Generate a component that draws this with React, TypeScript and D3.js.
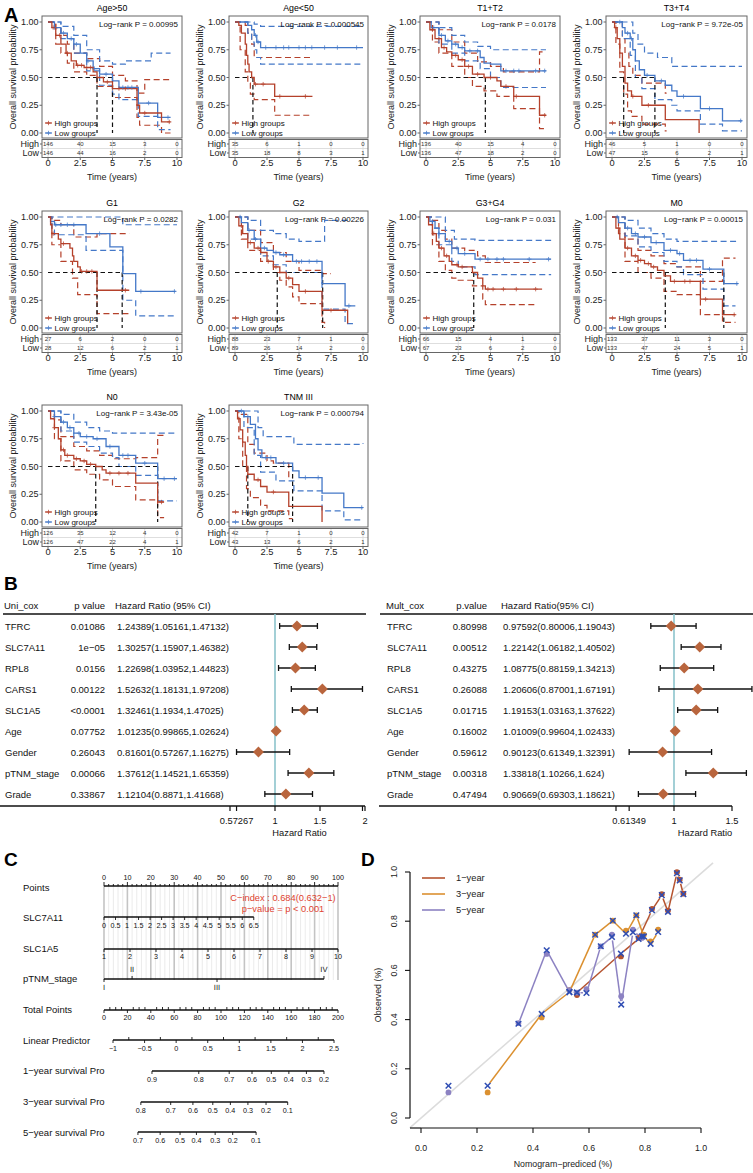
import React from 'react';
import * as d3 from 'd3';

type Pt = [number, number];

// ================= Panel A: Kaplan-Meier data =================
const kmTitles = ['Age>50', 'Age<50', 'T1+T2', 'T3+T4', 'G1', 'G2', 'G3+G4', 'M0', 'N0', 'TNM III'];
const kmPvals = ['0.00995', '0.000545', '0.0178', '9.72e-05', '0.0282', '0.00226', '0.031', '0.00015', '3.43e-05', '0.000794'];
const riskTimes = [0, 2.5, 5, 7.5, 10];
const riskHigh = [
  [146, 40, 15, 3, 0], [35, 6, 1, 0, 0], [136, 40, 15, 4, 0], [46, 5, 1, 0, 0], [27, 6, 2, 0, 0],
  [88, 23, 7, 1, 0], [66, 15, 4, 1, 0], [133, 37, 11, 3, 0], [126, 35, 12, 4, 0], [42, 7, 1, 0, 0],
];
const riskLow = [
  [146, 44, 16, 2, 0], [35, 18, 8, 3, 1], [136, 47, 18, 2, 0], [47, 15, 6, 2, 1], [28, 12, 6, 2, 1],
  [89, 26, 14, 2, 0], [67, 23, 6, 2, 0], [133, 47, 24, 5, 1], [126, 47, 22, 4, 1], [43, 13, 6, 2, 1],
];
const medHigh = [3.8, 1.4, 4.6, 0.9, 3.8, 3.3, 3.7, 4.1, 3.7, 1.0];
const medLow: (number | null)[] = [5.0, null, null, 3.3, 5.75, 6.85, null, 8.6, 8.5, 4.5];

const highSurv: Pt[][] = [
  [[0, 1], [0.3, 0.95], [0.6, 0.88], [1, 0.8], [1.4, 0.72], [1.8, 0.65], [2.2, 0.61], [2.8, 0.59], [3.5, 0.55], [3.8, 0.5], [4.3, 0.46], [5, 0.4], [6.9, 0.25], [7.1, 0.18], [8.8, 0.1], [9.5, 0.1]],
  [[0, 1], [0.3, 0.97], [0.5, 0.9], [0.8, 0.8], [0.9, 0.7], [1.0, 0.62], [1.1, 0.55], [1.3, 0.5], [1.5, 0.44], [3.1, 0.33], [6.05, 0.33]],
  [[0, 1], [0.3, 0.93], [0.7, 0.85], [1.2, 0.77], [1.6, 0.73], [2, 0.7], [2.5, 0.66], [3, 0.6], [3.6, 0.53], [4.5, 0.5], [5.5, 0.47], [5.8, 0.42], [6.8, 0.33], [8.8, 0.16], [9.3, 0.16]],
  [[0, 1], [0.2, 0.95], [0.4, 0.85], [0.6, 0.72], [0.8, 0.6], [1.0, 0.45], [1.2, 0.38], [1.5, 0.33], [2.3, 0.25], [4.1, 0.12], [6.7, 0]],
  [[0, 1], [0.2, 0.93], [0.3, 0.85], [0.8, 0.8], [1.0, 0.76], [1.7, 0.72], [1.9, 0.65], [2.0, 0.6], [2.3, 0.55], [2.5, 0.51], [3.8, 0.34], [6.3, 0.34]],
  [[0, 1], [0.3, 0.92], [0.6, 0.85], [1, 0.77], [1.5, 0.72], [2, 0.68], [2.5, 0.6], [3, 0.55], [3.5, 0.5], [4, 0.45], [4.5, 0.39], [5, 0.33], [6.8, 0.16], [8.8, 0.04]],
  [[0, 1], [0.2, 0.93], [0.5, 0.85], [0.8, 0.78], [1, 0.72], [1.4, 0.65], [1.8, 0.6], [2, 0.57], [2.5, 0.55], [3.6, 0.5], [4, 0.45], [4.4, 0.38], [4.6, 0.35], [9, 0.35]],
  [[0, 1], [0.3, 0.9], [0.6, 0.8], [1, 0.72], [1.5, 0.65], [2, 0.61], [2.5, 0.58], [3, 0.55], [3.5, 0.52], [4, 0.47], [4.5, 0.42], [6.8, 0.26], [8.5, 0.12], [9.5, 0.12]],
  [[0, 1], [0.2, 0.93], [0.5, 0.85], [0.8, 0.75], [1, 0.65], [1.3, 0.6], [2, 0.57], [2.5, 0.55], [3, 0.52], [3.7, 0.5], [4.2, 0.47], [4.5, 0.44], [6.8, 0.35], [8.5, 0.18], [9, 0.18]],
  [[0, 1], [0.2, 0.93], [0.4, 0.83], [0.6, 0.72], [0.8, 0.6], [0.9, 0.5], [1, 0.43], [1.5, 0.38], [2, 0.32], [2.5, 0.27], [4.2, 0.14], [6.8, 0]],
];
const lowSurv: Pt[][] = [
  [[0, 1], [0.5, 0.95], [1, 0.9], [1.5, 0.85], [2, 0.8], [2.5, 0.72], [3, 0.65], [3.5, 0.58], [4, 0.53], [5, 0.47], [5.5, 0.41], [7, 0.27], [8.5, 0.14], [9.5, 0.14]],
  [[0, 1], [1.0, 0.97], [1.3, 0.93], [1.5, 0.88], [1.7, 0.82], [2, 0.77], [10, 0.77]],
  [[0, 1], [0.4, 0.95], [1, 0.88], [1.5, 0.83], [2, 0.8], [2.5, 0.77], [3, 0.74], [4.2, 0.68], [4.5, 0.63], [5, 0.62], [5.8, 0.56], [9.3, 0.56]],
  [[0, 1], [0.8, 0.95], [1.0, 0.9], [1.4, 0.85], [1.6, 0.75], [1.8, 0.65], [2.1, 0.57], [2.5, 0.52], [3.3, 0.47], [4.1, 0.43], [4.6, 0.38], [5, 0.33], [6.8, 0.22], [8.5, 0.11], [10, 0.11]],
  [[0, 1], [0.2, 0.96], [0.5, 0.93], [2.95, 0.85], [4.8, 0.73], [5.8, 0.49], [6.8, 0.33], [9.9, 0.33]],
  [[0, 1], [0.5, 0.95], [1, 0.88], [1.5, 0.8], [2, 0.72], [2.5, 0.7], [3, 0.68], [3.5, 0.66], [4.5, 0.6], [6.8, 0.4], [8.6, 0.2], [9.4, 0.2]],
  [[0, 1], [0.3, 0.96], [0.7, 0.9], [1, 0.85], [1.5, 0.78], [2, 0.72], [2.5, 0.67], [3.8, 0.62], [9.7, 0.62]],
  [[0, 1], [0.5, 0.95], [1, 0.9], [1.5, 0.85], [2, 0.82], [3, 0.77], [4, 0.7], [5, 0.67], [5.5, 0.61], [7, 0.53], [8.6, 0.4], [9.7, 0.4]],
  [[0, 1], [0.5, 0.95], [1, 0.9], [1.5, 0.85], [2, 0.8], [2.5, 0.77], [3.5, 0.75], [4.5, 0.68], [5.5, 0.6], [6.8, 0.53], [8.5, 0.39], [10, 0.39]],
  [[0, 1], [0.7, 0.95], [1.2, 0.88], [1.6, 0.75], [1.8, 0.65], [2.1, 0.58], [3.2, 0.53], [4.5, 0.46], [5, 0.4], [6.8, 0.26], [8.5, 0.13], [10, 0.13]],
];
const highUpper: Pt[][] = [
  [[0, 1], [0.6, 0.95], [1, 0.88], [1.5, 0.8], [2, 0.72], [3, 0.67], [4, 0.6], [5, 0.52], [6, 0.47], [6.9, 0.36], [7.5, 0.48], [9.5, 0.48]],
  [[0, 1], [0.8, 0.97], [1, 0.9], [1.3, 0.8], [1.5, 0.68], [6.05, 0.68]],
  [[0, 1], [1, 0.93], [2, 0.82], [3, 0.72], [4, 0.64], [5, 0.6], [6, 0.55], [8.8, 0.73], [9.3, 0.73]],
  [[0, 1], [0.5, 1], [0.8, 0.85], [1, 0.72], [1.3, 0.6], [1.6, 0.52], [2.3, 0.45], [4.1, 0.36], [4.2, 0.36]],
  [[0, 1], [0.3, 0.97], [1, 0.93], [2, 0.82], [3.8, 0.85], [6.3, 0.85]],
  [[0, 1], [1, 0.88], [2, 0.77], [3, 0.68], [4, 0.6], [5, 0.52], [6.8, 0.49], [7.5, 0.49]],
  [[0, 1], [0.5, 0.97], [1, 0.88], [1.5, 0.8], [2, 0.72], [3, 0.7], [4, 0.65], [4.6, 0.59], [8.5, 0.59]],
  [[0, 1], [1, 0.8], [2, 0.7], [3, 0.65], [4, 0.58], [5, 0.55], [6.8, 0.42], [8.5, 0.63], [9.5, 0.63]],
  [[0, 1], [0.5, 0.92], [1, 0.77], [2, 0.68], [3, 0.64], [4, 0.6], [5, 0.57], [6.8, 0.58], [8.5, 0.78], [9, 0.78]],
  [[0, 1], [0.5, 0.97], [1, 0.7], [1.5, 0.62], [2.5, 0.55], [3, 0.53], [4.2, 0.4], [4.5, 0.4]],
];
const highLower: Pt[][] = [
  [[0, 1], [0.6, 0.8], [1, 0.72], [1.5, 0.63], [2, 0.55], [3, 0.52], [3.8, 0.42], [5, 0.32], [6.9, 0.14], [7.1, 0.07], [8.8, 0.0], [9.5, 0]],
  [[0, 1], [0.4, 0.75], [0.8, 0.55], [1.0, 0.45], [1.2, 0.35], [1.5, 0.3], [3.1, 0.16], [6.05, 0.16]],
  [[0, 1], [0.5, 0.82], [1, 0.72], [2, 0.6], [3, 0.5], [3.6, 0.42], [4.5, 0.38], [5.5, 0.33], [6.8, 0.22], [8.8, 0.04], [9.3, 0.04]],
  [[0, 1], [0.3, 0.8], [0.6, 0.55], [0.9, 0.35], [1.2, 0.2], [1.5, 0.15], [2.3, 0.08], [4.1, 0.02], [4.2, 0.02]],
  [[0, 1], [0.3, 0.75], [1, 0.6], [1.9, 0.45], [2.3, 0.3], [3.8, 0.13], [6.3, 0.13]],
  [[0, 1], [0.5, 0.8], [1, 0.7], [2, 0.6], [3, 0.5], [3.5, 0.43], [4, 0.37], [4.5, 0.28], [5, 0.22], [6.8, 0.05], [7, 0.0]],
  [[0, 1], [0.5, 0.75], [1, 0.6], [1.5, 0.52], [2, 0.45], [2.5, 0.43], [3.6, 0.38], [4.4, 0.26], [4.6, 0.21], [8.5, 0.21]],
  [[0, 1], [0.5, 0.85], [1, 0.6], [2, 0.5], [3, 0.45], [4, 0.33], [5, 0.3], [6.8, 0.12], [8.5, 0.05], [9.5, 0.05]],
  [[0, 1], [0.5, 0.75], [1, 0.55], [2, 0.47], [3, 0.43], [4, 0.38], [5, 0.32], [6.8, 0.2], [8.5, 0.04], [9, 0.04]],
  [[0, 1], [0.3, 0.75], [0.6, 0.5], [0.9, 0.3], [1.2, 0.22], [2, 0.15], [2.5, 0.1], [4.2, 0.03], [4.5, 0.03]],
];
const lowUpper: Pt[][] = [
  [[0, 1], [1, 0.96], [2, 0.88], [3, 0.75], [4, 0.65], [5, 0.62], [6, 0.65], [8, 0.72], [9.5, 0.72]],
  [[0, 1], [1.5, 0.98], [2, 0.96], [10, 0.96]],
  [[0, 1], [1, 0.95], [2, 0.88], [3, 0.82], [4, 0.78], [5, 0.75], [9.3, 0.75]],
  [[0, 1], [1, 1], [1.6, 0.9], [2, 0.8], [2.5, 0.72], [3.5, 0.68], [4.6, 0.6], [10, 0.6]],
  [[0, 1], [5.8, 0.93], [10, 0.93]],
  [[0, 1], [1, 0.97], [2, 0.88], [3, 0.85], [4, 0.8], [5, 0.78], [6.8, 0.78], [7, 0.97], [9, 0.97]],
  [[0, 1], [0.5, 1], [1.5, 0.88], [2.2, 0.8], [3.8, 0.79], [9.7, 0.79]],
  [[0, 1], [1, 0.97], [2, 0.9], [3, 0.85], [4, 0.8], [5, 0.78], [9.7, 0.78]],
  [[0, 1], [1, 0.97], [2, 0.9], [3, 0.85], [4, 0.82], [5, 0.8], [10, 0.8]],
  [[0, 1], [1, 1], [1.8, 0.85], [2.2, 0.77], [4.6, 0.7], [10, 0.71]],
];
const lowLower: Pt[][] = [
  [[0, 1], [1, 0.85], [2, 0.72], [3, 0.56], [4, 0.43], [5, 0.35], [5.5, 0.3], [7, 0.15], [8.5, 0.03], [9.5, 0.03]],
  [[0, 1], [1, 0.9], [1.3, 0.82], [1.5, 0.75], [1.7, 0.68], [2, 0.62], [10, 0.62]],
  [[0, 1], [1, 0.8], [2, 0.72], [3, 0.65], [4.2, 0.58], [5, 0.5], [5.8, 0.41], [9.3, 0.41]],
  [[0, 1], [0.8, 0.85], [1.4, 0.7], [1.8, 0.5], [2.3, 0.4], [3.3, 0.3], [4.6, 0.25], [5, 0.2], [6.8, 0.08], [8.5, 0.02], [10, 0.02]],
  [[0, 1], [0.3, 0.9], [0.5, 0.84], [2.95, 0.7], [5.8, 0.25], [6.8, 0.11], [10, 0.11]],
  [[0, 1], [1, 0.8], [2, 0.65], [3, 0.57], [4, 0.5], [5, 0.5], [6.8, 0.17], [8.6, 0.04], [9.4, 0.04]],
  [[0, 1], [0.5, 0.9], [1, 0.75], [2, 0.6], [2.5, 0.55], [3.8, 0.48], [9.7, 0.48]],
  [[0, 1], [1, 0.83], [2, 0.73], [3, 0.68], [4, 0.6], [5, 0.55], [5.5, 0.48], [7, 0.35], [8.6, 0.2], [9.5, 0.2]],
  [[0, 1], [1, 0.82], [2, 0.72], [3, 0.68], [4, 0.62], [5, 0.58], [5.5, 0.5], [6.8, 0.42], [8.5, 0.19], [10, 0.19]],
  [[0, 1], [0.7, 0.85], [1.5, 0.6], [2, 0.45], [3.2, 0.37], [4.6, 0.28], [6.8, 0.1], [8.5, 0.02], [10, 0.02]],
];
const highCensor = [
  [0.4, 0.9, 1.5, 2.3, 2.6, 3.0, 3.3, 4.6, 5.5, 6.0, 7.5, 9.4],
  [1.6, 2.2, 3.5, 5.5],
  [0.5, 1.0, 1.4, 2.3, 2.8, 3.3, 4.0, 5.0, 6.2, 7.0, 9.2],
  [0.3, 1.6, 2.8],
  [0.4, 1.2, 2.6, 3.0, 3.4, 6.0],
  [0.5, 1.2, 1.8, 2.6, 3.2, 4.2, 5.5, 7.5],
  [0.6, 1.2, 1.6, 2.4, 2.8, 4.8, 5.2, 6.0, 7.0, 8.5],
  [0.5, 1.2, 1.8, 2.2, 2.8, 3.2, 4.8, 5.6, 6.0, 7.2, 9.4],
  [0.5, 1.2, 1.5, 2.2, 2.8, 3.3, 4.8, 5.5, 6.2, 8.8],
  [1.8, 3.0],
];
const lowCensor = [
  [0.5, 1.2, 1.8, 2.2, 3.1, 3.6, 4.5, 5.8, 6.2, 6.5, 7.8, 9.3],
  [1.6, 1.8, 2.4, 3.2, 3.8, 4.2, 5.0, 5.5, 6.0, 7.0, 8.0, 9.5],
  [0.6, 1.2, 1.7, 2.3, 2.8, 3.4, 4.0, 6.2, 6.8, 7.2, 8.5, 9.2],
  [0.6, 1.2, 1.5, 2.7, 3.8, 5.5, 7.5, 9.9],
  [0.6, 1.0, 1.5, 2.0, 4.0, 7.2, 9.8],
  [0.4, 1.1, 1.6, 2.3, 3.2, 3.8, 4.8, 5.2, 5.8, 6.4, 8.9],
  [0.5, 1.0, 1.8, 2.4, 3.0, 4.2, 4.8, 5.5, 6.0, 8.0, 9.5],
  [0.4, 1.2, 1.8, 2.5, 3.4, 4.5, 5.2, 6.0, 6.5, 7.5, 9.6],
  [0.5, 1.2, 1.7, 2.4, 3.0, 3.8, 4.8, 5.8, 6.2, 7.5, 9.0, 9.8],
  [0.5, 1.0, 2.4, 2.8, 3.8, 5.5, 6.5, 9.9],
];
const yTicksKM = [0, 0.25, 0.5, 0.75, 1];
const xTicksKM = [0, 2.5, 5, 7.5, 10];

// ================= Panel B: forest data =================
const forestVars = ['TFRC', 'SLC7A11', 'RPL8', 'CARS1', 'SLC1A5', 'Age', 'Gender', 'pTNM_stage', 'Grade'];
const uniP = ['0.01086', '1e\u221205', '0.0156', '0.00122', '<0.0001', '0.07752', '0.26043', '0.00066', '0.33867'];
const uniHR = [1.24389, 1.30257, 1.22698, 1.52632, 1.32461, 1.01235, 0.81601, 1.37612, 1.12104];
const uniLo = [1.05161, 1.15907, 1.03952, 1.18131, 1.1934, 0.99865, 0.57267, 1.14521, 0.8871];
const uniHi = [1.47132, 1.46382, 1.44823, 1.97208, 1.47025, 1.02624, 1.16275, 1.65359, 1.41668];
const uniTicks = [0.5, 0.57267, 1, 1.5, 1.97208, 2];
const uniTickLabels = [0.57267, 1, 1.5, 2];
const multP = ['0.80998', '0.00512', '0.43275', '0.26088', '0.01715', '0.16002', '0.59612', '0.00318', '0.47494'];
const multHR = [0.97592, 1.22142, 1.08775, 1.20606, 1.19153, 1.01009, 0.90123, 1.33818, 0.90669];
const multLo = [0.80006, 1.06182, 0.88159, 0.87001, 1.03163, 0.99604, 0.61349, 1.10266, 0.69303];
const multHi = [1.19043, 1.40502, 1.34213, 1.67191, 1.37622, 1.02433, 1.32391, 1.624, 1.18621];
const multTicks = [0.5, 0.61349, 1, 1.5];
const multTickLabels = [0.61349, 1, 1.5];

// ================= Panel C: nomogram data =================
const nomoLabels = ['Points', 'SLC7A11', 'SLC1A5', 'pTNM_stage', 'Total Points', 'Linear Predictor', '1\u2212year survival Pro', '3\u2212year survival Pro', '5\u2212year survival Pro'];
const pointsTicks = d3.range(0, 101, 10);
const slc7Ticks = d3.range(0, 6.51, 0.5);
const slc7MaxPoints = 64;
const slc1Ticks = d3.range(1, 11, 1);
const stageLabels = ['I', 'II', 'III', 'IV'];
const stagePoints = [0, 12, 48.3, 94];
const totalTicks = d3.range(0, 201, 20);
const lpTicks = [-1, -0.5, 0, 0.5, 1, 1.5, 2, 2.5];
const lpTotalRange = [7.7, 196.6];
const surv1Labels = [0.9, 0.8, 0.7, 0.6, 0.5, 0.4, 0.3, 0.2];
const surv1Points = [41, 81, 107, 126.5, 143, 158, 173, 188];
const surv3Labels = [0.8, 0.7, 0.6, 0.5, 0.4, 0.3, 0.2, 0.1];
const surv3Points = [31.5, 57, 76, 93, 108, 123, 138.5, 157];
const surv5Labels = [0.7, 0.6, 0.5, 0.4, 0.3, 0.2, 0.1];
const surv5Points = [29, 48, 65, 79, 95, 110, 130];

// ================= Panel D: calibration data =================
const cal1Pred = [0.557, 0.714, 0.777, 0.825, 0.86, 0.882, 0.914, 0.924, 0.937];
const cal1Obs = [0.5, 0.657, 0.732, 0.85, 0.91, 0.843, 0.999, 0.969, 0.912];
const cal1KM = [0.51, 0.668, 0.728, 0.845, 0.906, 0.838, 0.995, 0.966, 0.91];
const cal3Pred = [0.238, 0.431, 0.53, 0.622, 0.685, 0.732, 0.769, 0.796, 0.82, 0.847];
const cal3Obs = [0.104, 0.409, 0.52, 0.745, 0.802, 0.762, 0.824, 0.745, 0.718, 0.766];
const cal3KM = [0.131, 0.423, 0.512, 0.745, 0.802, 0.749, 0.824, 0.738, 0.708, 0.756];
const cal5Pred = [0.098, 0.348, 0.449, 0.53, 0.557, 0.591, 0.642, 0.682, 0.715, 0.757, 0.789];
const cal5Obs = [0.104, 0.386, 0.667, 0.52, 0.51, 0.524, 0.698, 0.745, 0.495, 0.766, 0.732];
const cal5KM = [0.131, 0.383, 0.682, 0.512, 0.51, 0.508, 0.698, 0.736, 0.461, 0.755, 0.738];
const calLegend = ['1\u2212year', '3\u2212year', '5\u2212year'];
const calTicks = [0, 0.2, 0.4, 0.6, 0.8, 1.0];

// ================= styling =================
const FONT = '"Liberation Sans", Arial, Helvetica, sans-serif';
const RED = '#b5412b';
const BLUE = '#4478c8';
const GRID = '#666666';
const C1 = '#b5532f';
const C3 = '#db9030';
const C5 = '#8c82c2';
const XBLUE = '#2f4db3';

const COLS = [
  { x0: 48, x10: 177 },
  { x0: 235, x10: 363 },
  { x0: 426, x10: 555 },
  { x0: 612, x10: 742 },
];
const ROW_Y1 = [22, 217, 411];

function stepAt(c: Pt[], t: number) {
  let s = c[0][1];
  for (const p of c) if (p[0] <= t) s = p[1];
  return s;
}

function Plus({ x, y, color }: { x: number; y: number; color: string }) {
  return (
    <g stroke={color} strokeWidth={0.9} opacity={0.8}>
      <line x1={x - 2.2} x2={x + 2.2} y1={y} y2={y} />
      <line x1={x} x2={x} y1={y - 2.2} y2={y + 2.2} />
    </g>
  );
}

function KM({ i }: { i: number }) {
  const col = i % 4;
  const row = Math.floor(i / 4);
  const { x0, x10 } = COLS[col];
  const y1 = ROW_Y1[row];
  const y0 = y1 + 111;
  const x = d3.scaleLinear().domain([0, 10]).range([x0, x10]);
  const y = d3.scaleLinear().domain([0, 1]).range([y0, y1]);
  const bl = x0 - 6, br = x10 + 5, bt = y1 - 6, bb = y0 + 5;
  const line = d3.line<Pt>().x((d) => x(d[0])).y((d) => y(d[1])).curve(d3.curveStepAfter);
  const meds = [medHigh[i], medLow[i]].filter((m) => m != null) as number[];
  const medMax = meds.length ? Math.max(...meds) : 0;
  const tTop = y0 + 6.5, tBot = y0 + 24.5;
  const dash = '6,3.5';
  return (
    <g>
      <text x={(bl + br) / 2} y={y1 - 14} fontSize={8.8} textAnchor="middle" dominantBaseline="central">{kmTitles[i]}</text>
      <text transform={`translate(${bl - 29},${(bt + bb) / 2}) rotate(-90)`} fontSize={9} textAnchor="middle" dominantBaseline="central" fill="#222">Overall survival probability</text>
      {yTicksKM.map((v) => (
        <g key={v}>
          <line x1={bl - 2.5} x2={bl} y1={y(v)} y2={y(v)} stroke={GRID} />
          <text x={bl - 3.5} y={y(v)} fontSize={9} textAnchor="end" dominantBaseline="central" fill="#222">{v.toFixed(2)}</text>
        </g>
      ))}
      <path d={line(highUpper[i]) || ''} fill="none" stroke={RED} strokeWidth={1.2} strokeDasharray={dash} />
      <path d={line(highLower[i]) || ''} fill="none" stroke={RED} strokeWidth={1.2} strokeDasharray={dash} />
      <path d={line(lowUpper[i]) || ''} fill="none" stroke={BLUE} strokeWidth={1.2} strokeDasharray={dash} />
      <path d={line(lowLower[i]) || ''} fill="none" stroke={BLUE} strokeWidth={1.2} strokeDasharray={dash} />
      {meds.length > 0 && (
        <g stroke="#111" strokeWidth={1.2} strokeDasharray="4.5,3">
          <line x1={x(0)} x2={x(medMax)} y1={y(0.5)} y2={y(0.5)} />
          {meds.map((m, k) => (
            <line key={k} x1={x(m)} x2={x(m)} y1={y(0.5)} y2={y(0)} />
          ))}
        </g>
      )}
      <path d={line(lowSurv[i]) || ''} fill="none" stroke={BLUE} strokeWidth={1.3} />
      <path d={line(highSurv[i]) || ''} fill="none" stroke={RED} strokeWidth={1.3} />
      {lowCensor[i].map((t, k) => <Plus key={'l' + k} x={x(t)} y={y(stepAt(lowSurv[i], t))} color={BLUE} />)}
      {highCensor[i].map((t, k) => <Plus key={'h' + k} x={x(t)} y={y(stepAt(highSurv[i], t))} color={RED} />)}
      {[['High groups', RED, y0 - 10], ['Low groups', BLUE, y0]].map(([lab, c, yy]) => (
        <g key={lab as string}>
          <line x1={x0 - 3} x2={x0 + 4} y1={yy as number} y2={yy as number} stroke={c as string} strokeWidth={1.2} />
          <Plus x={x0 + 0.5} y={yy as number} color={c as string} />
          <text x={x0 + 6.5} y={yy as number} fontSize={8} dominantBaseline="central" fill="#111">{lab}</text>
        </g>
      ))}
      <text x={br - 4} y={y1 + 2} fontSize={8} textAnchor="end" dominantBaseline="central" fill="#111">Log{'\u2212'}rank P = {kmPvals[i]}</text>
      <rect x={bl} y={bt} width={br - bl} height={bb - bt} fill="none" stroke={GRID} strokeWidth={1} />
      {xTicksKM.map((t) => (
        <line key={t} x1={x(t)} x2={x(t)} y1={tTop} y2={tBot} stroke="#d6d6d6" strokeWidth={0.8} />
      ))}
      <line x1={bl} x2={br} y1={(tTop + tBot) / 2} y2={(tTop + tBot) / 2} stroke="#d6d6d6" strokeWidth={0.8} />
      <rect x={bl} y={tTop} width={br - bl} height={tBot - tTop} fill="none" stroke={GRID} strokeWidth={1} />
      {riskTimes.map((t, k) => (
        <g key={k}>
          <text x={x(t)} y={y0 + 11} fontSize={6} textAnchor="middle" dominantBaseline="central" fill="#333">{riskHigh[i][k]}</text>
          <text x={x(t)} y={y0 + 20} fontSize={6} textAnchor="middle" dominantBaseline="central" fill="#333">{riskLow[i][k]}</text>
        </g>
      ))}
      <text x={bl - 3} y={y0 + 11} fontSize={9} textAnchor="end" dominantBaseline="central" fill="#222">High</text>
      <text x={bl - 3} y={y0 + 20} fontSize={9} textAnchor="end" dominantBaseline="central" fill="#222">Low</text>
      <line x1={bl - 2} x2={bl} y1={y0 + 11} y2={y0 + 11} stroke={GRID} />
      <line x1={bl - 2} x2={bl} y1={y0 + 20} y2={y0 + 20} stroke={GRID} />
      {xTicksKM.map((t) => (
        <g key={'x' + t}>
          <line x1={x(t)} x2={x(t)} y1={tBot} y2={tBot + 2.5} stroke={GRID} />
          <text x={x(t)} y={y0 + 29.5} fontSize={9.3} textAnchor="middle" dominantBaseline="central" fill="#222">{t}</text>
        </g>
      ))}
      <text x={(bl + br) / 2} y={y0 + 44} fontSize={9} textAnchor="middle" dominantBaseline="central" fill="#222">Time (years)</text>
    </g>
  );
}

function Forest(props: {
  title: string; pTitle: string; hrTitle: string; p: string[]; hr: number[]; lo: number[]; hi: number[];
  xLab: number; xP: number; xHR: number; scaleDom: number[]; scaleRange: number[];
  ticks: number[]; tickLabels: number[]; ruleTop: number[]; ruleBot: number[];
}) {
  const { title, pTitle, hrTitle, p, hr, lo, hi, xLab, xP, xHR, ticks, tickLabels, ruleTop, ruleBot } = props;
  const sx = d3.scaleLinear().domain(props.scaleDom).range(props.scaleRange);
  const rowY = d3.scaleLinear().domain([0, 1]).range([626, 647]);
  const fs = 9.5;
  const diamond = (cx: number, cy: number) => `M${cx - 5.5},${cy}L${cx},${cy - 5.5}L${cx + 5.5},${cy}L${cx},${cy + 5.5}Z`;
  return (
    <g fontSize={fs} fill="#111">
      <text x={xLab - 1} y={605} dominantBaseline="central">{title}</text>
      <text x={xP} y={605} textAnchor="end" dominantBaseline="central">{pTitle}</text>
      <text x={xHR - 2} y={605} dominantBaseline="central">{hrTitle}</text>
      <line x1={ruleTop[0]} x2={ruleTop[1]} y1={614} y2={614} stroke="#111" strokeWidth={1.6} />
      <line x1={sx(1)} x2={sx(1)} y1={614} y2={806} stroke="#8cc4cc" strokeWidth={1.6} />
      {forestVars.map((v, k) => {
        const yy = rowY(k);
        return (
          <g key={v}>
            <text x={xLab} y={yy} dominantBaseline="central">{v}</text>
            <text x={xP} y={yy} textAnchor="end" dominantBaseline="central">{p[k]}</text>
            <text x={xHR} y={yy} dominantBaseline="central">{`${hr[k]}(${lo[k]},${hi[k]})`}</text>
            <line x1={sx(lo[k])} x2={sx(hi[k])} y1={yy} y2={yy} stroke="#111" strokeWidth={1.5} />
            <line x1={sx(lo[k])} x2={sx(lo[k])} y1={yy - 3} y2={yy + 3} stroke="#111" strokeWidth={1.3} />
            <line x1={sx(hi[k])} x2={sx(hi[k])} y1={yy - 3} y2={yy + 3} stroke="#111" strokeWidth={1.3} />
            <path d={diamond(sx(hr[k]), yy)} fill="#b9653d" />
          </g>
        );
      })}
      <line x1={ruleBot[0]} x2={ruleBot[1]} y1={806} y2={806} stroke="#111" strokeWidth={1.6} />
      {ticks.map((t, k) => (
        <line key={k} x1={sx(t)} x2={sx(t)} y1={806} y2={811} stroke="#111" strokeWidth={1.2} />
      ))}
      {tickLabels.map((t, k) => (
        <text key={k} x={sx(t)} y={821} textAnchor="middle" dominantBaseline="central" fontSize={9.3}>{t}</text>
      ))}
      <text x={(sx(1) + sx(1.5)) / 2 + 2} y={832.5} textAnchor="middle" dominantBaseline="central" fontSize={9.3}>Hazard Ratio</text>
    </g>
  );
}

function Nomogram() {
  const pts = d3.scaleLinear().domain([0, 100]).range([104, 338]);
  const tot = d3.scaleLinear().domain([0, 200]).range([104, 338]);
  const slc7 = d3.scaleLinear().domain([0, 6.5]).range([pts(0), pts(slc7MaxPoints)]);
  const slc1 = d3.scaleLinear().domain([1, 10]).range([pts(0), pts(100)]);
  const lp = d3.scaleLinear().domain([-1, 2.5]).range([tot(lpTotalRange[0]), tot(lpTotalRange[1])]);
  const labelY = [887, 917, 948, 978, 1009, 1040, 1070, 1101, 1132];
  const ax = { stroke: '#111', strokeWidth: 1.6 };
  const tk = { stroke: '#111', strokeWidth: 0.9 };
  const fsT = 7.2;
  const survRows = [
    { labels: surv1Labels, pts: surv1Points, y: 1071 },
    { labels: surv3Labels, pts: surv3Points, y: 1102 },
    { labels: surv5Labels, pts: surv5Points, y: 1132 },
  ];
  return (
    <g fill="#111">
      {d3.range(0, 100.1, 2).map((v) => (
        <line key={'g' + v} x1={pts(v)} x2={pts(v)} y1={886} y2={980}
          stroke={v % 10 === 0 ? '#c4c4c4' : '#e6e6e6'} strokeWidth={v % 10 === 0 ? 1.6 : 0.8} />
      ))}
      {nomoLabels.map((l, k) => (
        <text key={l} x={23} y={labelY[k]} fontSize={9.5} dominantBaseline="central">{l}</text>
      ))}
      <line x1={pts(0)} x2={pts(100)} y1={886} y2={886} {...ax} />
      {d3.range(0, 100.1, 2).map((v) => (
        <line key={'pt' + v} x1={pts(v)} x2={pts(v)} y1={886} y2={v % 10 === 0 ? 882 : 884} {...tk} />
      ))}
      {pointsTicks.map((v) => (
        <text key={'pl' + v} x={pts(v)} y={877.5} fontSize={fsT} textAnchor="middle" dominantBaseline="central">{v}</text>
      ))}
      <text x={283} y={898} fontSize={9.3} textAnchor="middle" dominantBaseline="central" fill="#e0432f">C{'\u2212'}index : 0.684(0.632{'\u2212'}1)</text>
      <text x={283} y={909} fontSize={9.3} textAnchor="middle" dominantBaseline="central" fill="#e0432f">p{'\u2212'}value = p {'<'} 0.001</text>
      <line x1={slc7(0)} x2={slc7(6.5)} y1={917} y2={917} {...ax} />
      {slc7Ticks.map((v) => (
        <g key={'s7' + v}>
          <line x1={slc7(v)} x2={slc7(v)} y1={917} y2={920} {...tk} />
          <text x={slc7(v)} y={925} fontSize={fsT} textAnchor="middle" dominantBaseline="central">{v}</text>
        </g>
      ))}
      <line x1={slc1(1)} x2={slc1(10)} y1={949} y2={949} {...ax} />
      {slc1Ticks.map((v) => (
        <g key={'s1' + v}>
          <line x1={slc1(v)} x2={slc1(v)} y1={949} y2={952} {...tk} />
          <text x={slc1(v)} y={956.5} fontSize={fsT} textAnchor="middle" dominantBaseline="central">{v}</text>
        </g>
      ))}
      <line x1={pts(stagePoints[0])} x2={pts(stagePoints[3])} y1={979} y2={979} {...ax} />
      {stageLabels.map((l, k) => {
        const up = k === 1 || k === 3;
        const xx = pts(stagePoints[k]);
        return (
          <g key={l}>
            <line x1={xx} x2={xx} y1={979} y2={up ? 976 : 982} {...tk} />
            <text x={xx} y={up ? 969.5 : 987.5} fontSize={7.6} textAnchor="middle" dominantBaseline="central" fill="#111" style={{ textRendering: 'geometricPrecision' }}>{l}</text>
          </g>
        );
      })}
      <line x1={tot(0)} x2={tot(200)} y1={1010} y2={1010} {...ax} />
      {d3.range(0, 200.1, 5).map((v) => (
        <line key={'tt' + v} x1={tot(v)} x2={tot(v)} y1={1010} y2={v % 20 === 0 ? 1013 : 1007} {...tk} />
      ))}
      {totalTicks.map((v) => (
        <text key={'tl' + v} x={tot(v)} y={1017.5} fontSize={fsT} textAnchor="middle" dominantBaseline="central">{v}</text>
      ))}
      <line x1={lp(-1)} x2={lp(2.5)} y1={1040} y2={1040} {...ax} />
      {d3.range(-1, 2.51, 0.25).map((v) => (
        <line key={'lp' + v} x1={lp(v)} x2={lp(v)} y1={1040} y2={Math.abs(v * 2 - Math.round(v * 2)) < 1e-6 ? 1043 : 1037} {...tk} />
      ))}
      {lpTicks.map((v) => (
        <text key={'lpl' + v} x={lp(v)} y={1048} fontSize={fsT} textAnchor="middle" dominantBaseline="central">{v < 0 ? '\u2212' + Math.abs(v) : v}</text>
      ))}
      {survRows.map((r, k) => (
        <g key={'sr' + k}>
          <line x1={tot(r.pts[0])} x2={tot(r.pts[r.pts.length - 1])} y1={r.y} y2={r.y} {...ax} />
          {r.pts.map((p, j) => (
            <g key={j}>
              <line x1={tot(p)} x2={tot(p)} y1={r.y} y2={r.y + 3} {...tk} />
              <text x={tot(p)} y={r.y + 8} fontSize={fsT} textAnchor="middle" dominantBaseline="central">{r.labels[j]}</text>
            </g>
          ))}
        </g>
      ))}
    </g>
  );
}

function Calib() {
  const x = d3.scaleLinear().domain([0, 1]).range([421, 701]);
  const y = d3.scaleLinear().domain([0, 1]).range([1118, 872]);
  const series = [
    { pred: cal1Pred, obs: cal1Obs, km: cal1KM, color: C1, start: 0 },
    { pred: cal3Pred, obs: cal3Obs, km: cal3KM, color: C3, start: 0 },
    { pred: cal5Pred, obs: cal5Obs, km: cal5KM, color: C5, start: 1 },
  ];
  const gap = 3.5;
  const segs = (pred: number[], km: number[], start: number) => {
    const out: number[][] = [];
    for (let k = start; k < pred.length - 1; k++) {
      const ax = x(pred[k]), ay = y(km[k]), bx = x(pred[k + 1]), by = y(km[k + 1]);
      const L = Math.hypot(bx - ax, by - ay);
      if (L <= 2 * gap) continue;
      const ux = (bx - ax) / L, uy = (by - ay) / L;
      out.push([ax + ux * gap, ay + uy * gap, bx - ux * gap, by - uy * gap]);
    }
    return out;
  };
  return (
    <g fontSize={8.8} fill="#222">
      <line x1={x(-0.04)} y1={y(-0.04)} x2={x(1.043)} y2={y(1.037)} stroke="#dcdcdc" strokeWidth={1.6} />
      {series.map((s, k) => (
        <g key={k}>
          {segs(s.pred, s.km, s.start).map((g, j) => (
            <line key={j} x1={g[0]} y1={g[1]} x2={g[2]} y2={g[3]} stroke={s.color} strokeWidth={1.5} />
          ))}
        </g>
      ))}
      {series.map((s, k) => (
        <g key={'p' + k}>
          {s.pred.map((p, j) => (
            <circle key={j} cx={x(p)} cy={y(s.obs[j])} r={2.9} fill={s.color} />
          ))}
        </g>
      ))}
      {series.map((s, k) => (
        <g key={'x' + k} stroke={XBLUE} strokeWidth={1.5}>
          {s.pred.map((p, j) => {
            const cx = x(p), cy = y(s.km[j]);
            return (
              <g key={j}>
                <line x1={cx - 2.8} y1={cy - 2.8} x2={cx + 2.8} y2={cy + 2.8} />
                <line x1={cx - 2.8} y1={cy + 2.8} x2={cx + 2.8} y2={cy - 2.8} />
              </g>
            );
          })}
        </g>
      ))}
      <line x1={x(0)} x2={x(1)} y1={1128} y2={1128} stroke="#111" strokeWidth={1.2} />
      <line x1={410} x2={410} y1={y(0)} y2={y(1)} stroke="#111" strokeWidth={1.2} />
      <line x1={410} x2={x(0)} y1={1128} y2={1128} stroke="#111" strokeWidth={1.2} />
      {calTicks.map((t) => (
        <g key={t}>
          <line x1={x(t)} x2={x(t)} y1={1128} y2={1133} stroke="#111" strokeWidth={1.1} />
          <text x={x(t)} y={1148} textAnchor="middle" dominantBaseline="central">{t.toFixed(1)}</text>
          <line x1={405} x2={410} y1={y(t)} y2={y(t)} stroke="#111" strokeWidth={1.1} />
          <text transform={`translate(394,${y(t)}) rotate(-90)`} textAnchor="middle" dominantBaseline="central">{t.toFixed(1)}</text>
        </g>
      ))}
      <text x={563} y={1164} textAnchor="middle" dominantBaseline="central">Nomogram{'\u2212'}prediced (%)</text>
      <text transform={`translate(378,995) rotate(-90)`} textAnchor="middle" dominantBaseline="central">Observed (%)</text>
      {calLegend.map((l, k) => (
        <g key={l}>
          <line x1={422} x2={445} y1={878 + 16 * k} y2={878 + 16 * k} stroke={[C1, C3, C5][k]} strokeWidth={1.6} />
          <text x={456} y={878 + 16 * k} fontSize={9.3} dominantBaseline="central">{l}</text>
        </g>
      ))}
    </g>
  );
}

export default function App() {
  return (
    <svg width={753} height={1173} viewBox="0 0 753 1173" style={{ position: 'absolute', left: 0, top: 0, display: 'block' }} fontFamily={FONT}>
      <rect x={0} y={0} width={753} height={1173} fill="#fff" />
      <text x={4} y={22} fontSize={20} fontWeight="bold">A</text>
      {kmTitles.map((_, i) => <KM key={i} i={i} />)}
      <text x={4} y={590} fontSize={19} fontWeight="bold">B</text>
      <Forest title="Uni_cox" pTitle="p value" hrTitle="Hazard Ratio (95% CI)" p={uniP} hr={uniHR} lo={uniLo} hi={uniHi}
        xLab={5} xP={105} xHR={117} scaleDom={[1, 2]} scaleRange={[275, 365]} ticks={uniTicks} tickLabels={uniTickLabels}
        ruleTop={[3, 366]} ruleBot={[0, 365]} />
      <Forest title="Mult_cox" pTitle="p.value" hrTitle="Hazard Ratio(95% CI)" p={multP} hr={multHR} lo={multLo} hi={multHi}
        xLab={387} xP={487} xHR={503} scaleDom={[1, 1.5]} scaleRange={[674, 732]} ticks={multTicks} tickLabels={multTickLabels}
        ruleTop={[380, 753]} ruleBot={[379, 732]} />
      <text x={4} y={866} fontSize={19} fontWeight="bold">C</text>
      <text x={361} y={866} fontSize={19} fontWeight="bold">D</text>
      <Nomogram />
      <Calib />
    </svg>
  );
}
